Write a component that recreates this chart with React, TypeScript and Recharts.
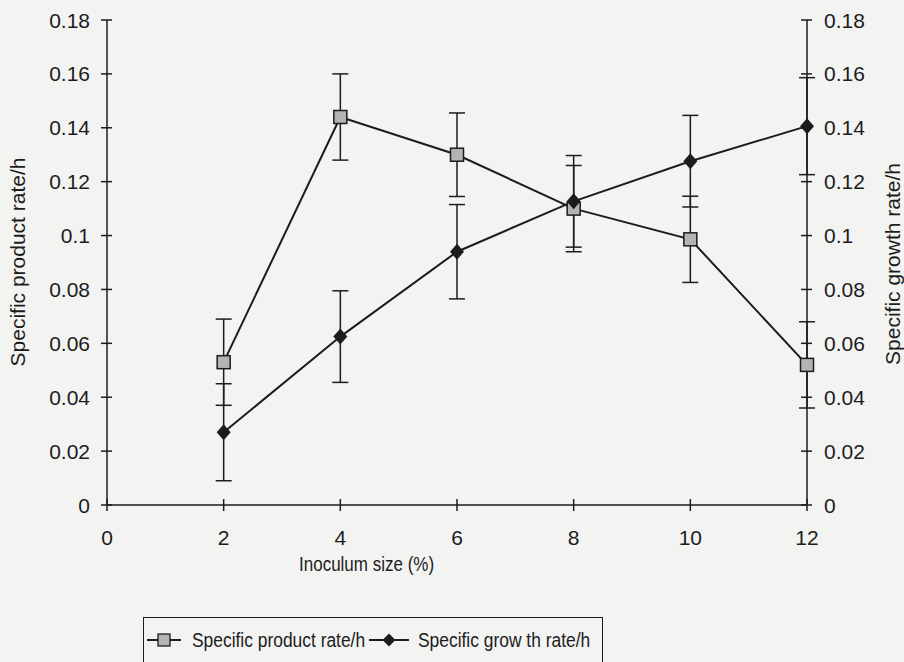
import { LineChart, Line, XAxis, YAxis, ErrorBar } from 'recharts';

const inoculum = [2, 4, 6, 8, 10, 12];
const productRate = [0.053, 0.144, 0.13, 0.11, 0.0986, 0.052];
const productErr = [0.016, 0.016, 0.0155, 0.016, 0.016, 0.016];
const growthRate = [0.027, 0.0625, 0.094, 0.1127, 0.1276, 0.1406];
const growthErr = [0.018, 0.017, 0.0175, 0.017, 0.017, 0.018];
const xTicks = [0, 2, 4, 6, 8, 10, 12];
const yTicks = [0, 0.02, 0.04, 0.06, 0.08, 0.1, 0.12, 0.14, 0.16, 0.18];

const data = inoculum.map((x, i) => ({
  x,
  product: productRate[i],
  productErr: productErr[i],
  growth: growthRate[i],
  growthErr: growthErr[i],
}));

const FONT = "'Liberation Sans', Arial, sans-serif";
const INK = '#1c1c1c';
const TICK_MARGIN_Y = 17;
const TICK_MARGIN_X = 24;

const fmt = (v: number) => String(Math.round(v * 100) / 100);

// ticks cross the axis line on both sides, like the original
const LeftTick = ({ x, y, payload }: any) => {
  const ax = x + TICK_MARGIN_Y;
  return (
    <g>
      <line x1={ax - 6} x2={ax + 5} y1={y} y2={y} stroke={INK} strokeWidth={1.5} />
      <text x={x} y={y} textAnchor="end" dominantBaseline="central" fontSize={21} fill={INK} fontFamily={FONT}>
        {fmt(payload.value)}
      </text>
    </g>
  );
};

const RightTick = ({ x, y, payload }: any) => {
  const ax = x - TICK_MARGIN_Y;
  return (
    <g>
      <line x1={ax - 6} x2={ax + 5} y1={y} y2={y} stroke={INK} strokeWidth={1.5} />
      <text x={x} y={y} textAnchor="start" dominantBaseline="central" fontSize={21} fill={INK} fontFamily={FONT}>
        {fmt(payload.value)}
      </text>
    </g>
  );
};

const BottomTick = ({ x, y, payload }: any) => {
  const ay = y - TICK_MARGIN_X;
  return (
    <g>
      <line x1={x} x2={x} y1={ay - 6} y2={ay + 6} stroke={INK} strokeWidth={1.5} />
      <text x={x} y={y + 8} textAnchor="middle" dominantBaseline="central" fontSize={21} fill={INK} fontFamily={FONT}>
        {payload.value}
      </text>
    </g>
  );
};

const SquareDot = (props: any) => {
  const { cx, cy, index } = props;
  if (cx == null || cy == null) return null;
  return <rect key={'s' + index} x={cx - 6.5} y={cy - 6.5} width={13} height={13} fill="#b3b3b3" stroke={INK} strokeWidth={1.5} />;
};

const DiamondDot = (props: any) => {
  const { cx, cy, index } = props;
  if (cx == null || cy == null) return null;
  return (
    <polygon
      key={'d' + index}
      points={`${cx},${cy - 8} ${cx + 7},${cy} ${cx},${cy + 8} ${cx - 7},${cy}`}
      fill={INK}
    />
  );
};

const narrow = (scale: number): React.CSSProperties => ({
  display: 'inline-block',
  transform: `scaleX(${scale})`,
  transformOrigin: 'left center',
  whiteSpace: 'nowrap',
});

export default function App() {
  return (
    <div style={{ position: 'absolute', left: 0, top: 0, width: 904, height: 662, background: '#f3f3f2', fontFamily: FONT, color: INK, overflow: 'hidden' }}>
      <LineChart width={904} height={662} data={data} margin={{ top: 20, right: 37, bottom: 117, left: 47 }}>
        <XAxis
          dataKey="x"
          type="number"
          domain={[0, 12]}
          ticks={xTicks}
          height={40}
          tickSize={0}
          tickMargin={TICK_MARGIN_X}
          tick={<BottomTick />}
          axisLine={{ stroke: INK, strokeWidth: 1.5 }}
          tickLine={false}
        />
        <YAxis
          yAxisId="left"
          domain={[0, 0.18]}
          ticks={yTicks}
          width={60}
          tickSize={0}
          tickMargin={TICK_MARGIN_Y}
          tick={<LeftTick />}
          axisLine={{ stroke: INK, strokeWidth: 1.5 }}
          tickLine={false}
        />
        <YAxis
          yAxisId="right"
          orientation="right"
          domain={[0, 0.18]}
          ticks={yTicks}
          width={60}
          tickSize={0}
          tickMargin={TICK_MARGIN_Y}
          tick={<RightTick />}
          axisLine={{ stroke: INK, strokeWidth: 1.5 }}
          tickLine={false}
        />
        <Line
          yAxisId="left"
          dataKey="product"
          type="linear"
          stroke={INK}
          strokeWidth={2}
          dot={SquareDot}
          activeDot={false}
          isAnimationActive={false}
        >
          <ErrorBar dataKey="productErr" direction="y" width={8} stroke={INK} strokeWidth={1.5} />
        </Line>
        <Line
          yAxisId="right"
          dataKey="growth"
          type="linear"
          stroke={INK}
          strokeWidth={2}
          dot={DiamondDot}
          activeDot={false}
          isAnimationActive={false}
        >
          <ErrorBar dataKey="growthErr" direction="y" width={8} stroke={INK} strokeWidth={1.5} />
        </Line>
      </LineChart>

      <div style={{ position: 'absolute', left: 18, top: 262, transform: 'translate(-50%, -50%) rotate(-90deg)', whiteSpace: 'nowrap', fontSize: 21 }}>
        Specific product rate/h
      </div>
      <div style={{ position: 'absolute', left: 893, top: 264, transform: 'translate(-50%, -50%) rotate(-90deg)', whiteSpace: 'nowrap', fontSize: 21 }}>
        Specific growth rate/h
      </div>
      <div style={{ position: 'absolute', left: 299, top: 552, fontSize: 20, lineHeight: '24px' }}>
        <span style={narrow(0.85)}>Inoculum size (%)</span>
      </div>

      <div style={{ position: 'absolute', left: 143, top: 617, width: 460, height: 70, border: `1.5px solid ${INK}`, boxSizing: 'border-box' }} />
      <svg width={34} height={16} style={{ position: 'absolute', left: 147, top: 632 }}>
        <line x1={0} x2={34} y1={8} y2={8} stroke={INK} strokeWidth={1.8} />
        <rect x={11} y={2} width={12} height={12} fill="#b3b3b3" stroke={INK} strokeWidth={1.3} />
      </svg>
      <div style={{ position: 'absolute', left: 192, top: 628, fontSize: 20, lineHeight: '24px' }}>
        <span style={narrow(0.87)}>Specific product rate/h</span>
      </div>
      <svg width={40} height={16} style={{ position: 'absolute', left: 369, top: 632 }}>
        <line x1={0} x2={40} y1={8} y2={8} stroke={INK} strokeWidth={1.8} />
        <polygon points="20,1.5 26.5,8 20,14.5 13.5,8" fill={INK} />
      </svg>
      <div style={{ position: 'absolute', left: 418, top: 628, fontSize: 20, lineHeight: '24px' }}>
        <span style={narrow(0.87)}>Specific grow th rate/h</span>
      </div>
    </div>
  );
}
